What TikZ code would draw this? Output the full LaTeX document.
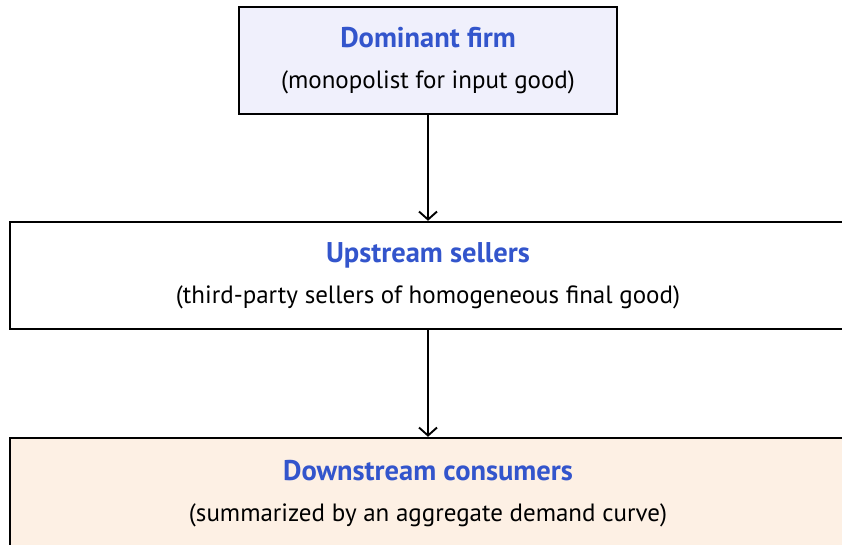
\documentclass[tikz,border=0pt]{standalone}
\usepackage{fontspec}
\setmainfont{PT Sans}
\usetikzlibrary{arrows.meta}
\definecolor{titleblue}{RGB}{51,85,204}
\definecolor{firmfill}{RGB}{240,240,252}
\definecolor{consfill}{RGB}{253,240,228}
\newcommand{\stagetitle}[1]{{\fontsize{28.5}{41}\selectfont\bfseries\color{titleblue}#1}}
\begin{document}
\begin{tikzpicture}[x=1pt,y=1pt,
  stage/.style={draw=black, line width=2.4pt, minimum height=107pt, inner sep=0pt,
    align=center, font=\fontsize{25}{41}\selectfont},
  flow/.style={-{Straight Barb[length=8pt,width=18pt,line width=1.9pt]}, line width=1.9pt}]
\useasboundingbox (0,0) rectangle (842,544);
\clip (0,0) rectangle (842,544);
% three market layers
\node[stage, fill=firmfill, minimum width=378pt] (firm) at (428,483.5)
  {\stagetitle{Dominant firm}\\(monopolist for input good)};
\node[stage, fill=white, minimum width=836pt] (sellers) at (428,268.5)
  {\stagetitle{Upstream sellers}\\(third-party sellers of homogeneous final good)};
\node[stage, fill=consfill, minimum width=836pt, minimum height=111pt] (consumers) at (428,50.5)
  {\stagetitle{Downstream consumers}\\(summarized by an aggregate demand curve)};
% supply chain
\draw[flow] (firm) -- (sellers);
\draw[flow] (sellers) -- (consumers);
\end{tikzpicture}
\end{document}
